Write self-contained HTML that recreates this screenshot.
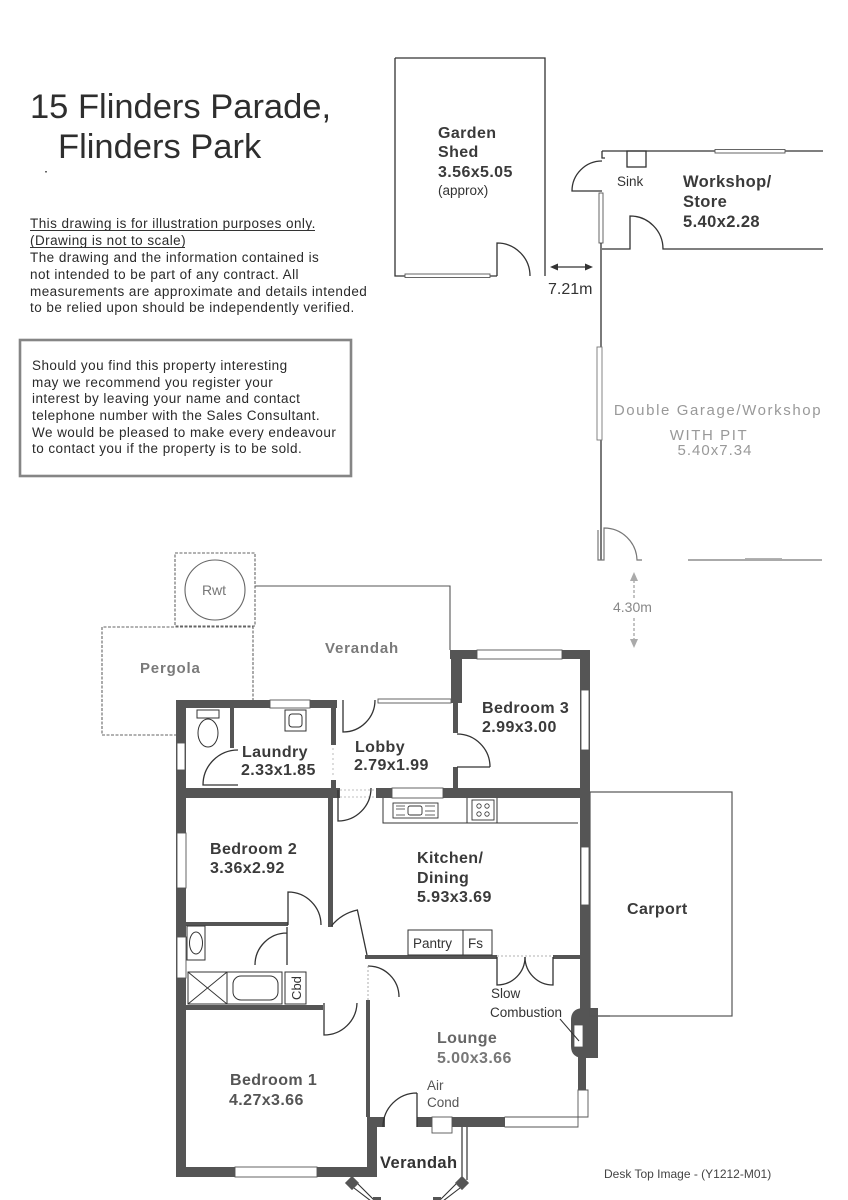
<!DOCTYPE html>
<html><head><meta charset="utf-8"><style>
html,body{margin:0;padding:0;background:#fff;}
svg{display:block;}
text{font-family:"Liberation Sans",Arial,sans-serif;}
.ttl{font-size:34.5px;fill:#2e2e2e;}
.dis{font-size:13.5px;fill:#2a2a2a;letter-spacing:0.45px;}
.lb{font-size:16px;font-weight:bold;fill:#3a3a3a;letter-spacing:0.4px;}
.lbg{font-size:15px;font-weight:bold;fill:#7a7a7a;letter-spacing:0.8px;}
.sm{font-size:14px;fill:#333;}
.ln{stroke:#333;stroke-width:1.3;fill:none;}
.dl{stroke:#666;stroke-width:1.1;fill:none;stroke-dasharray:3 1.5;}
.w{fill:#555;}
.win{fill:#fff;stroke:#555;stroke-width:0.9;}
.gr{font-size:15px;fill:#999;letter-spacing:1.6px;}
</style></head><body>
<svg width="848" height="1200" viewBox="0 0 848 1200" xmlns="http://www.w3.org/2000/svg">
<rect width="848" height="1200" fill="#fff"/>

<!-- Title -->
<text class="ttl" x="30" y="118">15 Flinders Parade,</text>
<text class="ttl" x="58" y="158">Flinders Park</text>
<rect x="45" y="171" width="2" height="1.5" fill="#666"/>

<!-- Disclaimer -->
<text class="dis" x="30" y="228">This drawing is for illustration purposes only.</text>
<line x1="30" y1="230.5" x2="315" y2="230.5" stroke="#333" stroke-width="1"/>
<text class="dis" x="30" y="245">(Drawing is not to scale)</text>
<line x1="30" y1="247.5" x2="185" y2="247.5" stroke="#333" stroke-width="1"/>
<text class="dis" x="30" y="262">The drawing and the information contained is</text>
<text class="dis" x="30" y="279">not intended to be part of any contract.  All</text>
<text class="dis" x="30" y="296">measurements are approximate and details intended</text>
<text class="dis" x="30" y="312">to be relied upon should be independently verified.</text>

<!-- Box -->
<rect x="20" y="340" width="331" height="136" fill="none" stroke="#858585" stroke-width="2.6"/>
<text class="dis" x="32" y="370">Should you find this property interesting</text>
<text class="dis" x="32" y="387">may we recommend you register your</text>
<text class="dis" x="32" y="403">interest by leaving your name and contact</text>
<text class="dis" x="32" y="420">telephone number with the Sales Consultant.</text>
<text class="dis" x="32" y="437">We would be pleased to make every endeavour</text>
<text class="dis" x="32" y="453">to contact you if the property is to be sold.</text>

<!-- Garden shed -->
<path class="ln" d="M395 58 L545 58 L545 276 M395 58 L395 276 L497 276"/>
<rect x="405" y="274" width="85" height="3.5" class="win"/>
<path class="ln" d="M497 276 L497 243 A33 33 0 0 1 530 276"/>
<text class="lb" x="438" y="138">Garden</text>
<text class="lb" x="438" y="157">Shed</text>
<text class="lb" x="438" y="177">3.56x5.05</text>
<text class="sm" x="438" y="195" style="font-size:13.5px">(approx)</text>

<!-- 7.21m arrow -->
<line x1="556" y1="267" x2="587" y2="267" stroke="#333" stroke-width="1.2"/>
<polygon points="550,267 558,263.5 558,270.5" fill="#333"/>
<polygon points="593,267 585,263.5 585,270.5" fill="#333"/>
<text x="548" y="294" style="font-size:16px;fill:#333">7.21m</text>

<!-- Workshop -->
<path class="ln" d="M602 151 L823 151 M602 151 L602 158 L605 158"/>
<rect x="715" y="149.5" width="70" height="3.5" class="win"/>
<rect x="627" y="151" width="19" height="16" class="ln"/>
<path class="ln" d="M602 191 L572 191 A30 30 0 0 1 602 161"/>
<rect x="599" y="193" width="4" height="50" class="win"/>
<path class="ln" d="M601 243 L601 560"/>
<path class="ln" d="M602 249 L630 249 L630 216 A33 33 0 0 1 663 249 L823 249"/>
<text class="sm" x="617" y="186" style="font-size:13.5px">Sink</text>
<text class="lb" x="683" y="187" style="font-size:16.5px">Workshop/</text>
<text class="lb" x="683" y="207" style="font-size:16.5px">Store</text>
<text class="lb" x="683" y="227" style="font-size:16.5px">5.40x2.28</text>

<!-- Garage -->
<rect x="597" y="347" width="5" height="93" fill="#fff" stroke="#777" stroke-width="0.9"/>
<path d="M598 530 L598 560 L604 560 L604 528 A33 33 0 0 1 637 560 L642 560" stroke="#777" stroke-width="1.2" fill="none"/>
<path d="M688 560 L822 560" stroke="#777" stroke-width="1.2" fill="none"/>
<path d="M745 558.5 L782 558.5" stroke="#999" stroke-width="0.8"/>
<text class="gr" x="718" y="415" text-anchor="middle">Double  Garage/Workshop</text>
<text class="gr" x="709" y="440" text-anchor="middle">WITH  PIT</text>
<text class="gr" x="715" y="455" text-anchor="middle" style="letter-spacing:1px">5.40x7.34</text>
<!-- 4.30m arrow -->
<line x1="634" y1="580" x2="634" y2="598" stroke="#888" stroke-width="1" stroke-dasharray="3 2"/>
<line x1="634" y1="618" x2="634" y2="640" stroke="#888" stroke-width="1" stroke-dasharray="3 2"/>
<polygon points="634,572 630,581 638,581" fill="#aaa"/>
<polygon points="634,648 630,639 638,639" fill="#aaa"/>
<text x="613" y="612" style="font-size:14px;fill:#888">4.30m</text>

<!-- Rwt / Pergola / Verandah outlines -->
<rect x="175" y="553" width="80" height="73" class="dl"/>
<circle cx="215" cy="590" r="30" fill="none" stroke="#666" stroke-width="1.1"/>
<text x="214" y="595" text-anchor="middle" style="font-size:14px;fill:#777">Rwt</text>
<path class="dl" d="M177 735 L102 735 L102 627 L253 627 L253 700"/>
<path class="dl" d="M255 586 L450 586 L450 650" style="stroke-dasharray:none;stroke:#555"/>
<text class="lbg" x="325" y="653">Verandah</text>
<text class="lbg" x="140" y="673">Pergola</text>

<!-- Walls -->
<rect class="w" x="176" y="700" width="10" height="477"/>
<rect class="w" x="176" y="700" width="161" height="8"/>
<rect class="w" x="331" y="700" width="5" height="45"/>
<rect class="w" x="331" y="780" width="5" height="18"/>
<rect class="w" x="176" y="788" width="164" height="10"/>
<rect class="w" x="376" y="788" width="214" height="10"/>
<rect class="w" x="450" y="650" width="140" height="9"/>
<rect class="w" x="451" y="650" width="11" height="53"/>
<rect class="w" x="580" y="650" width="10" height="360"/>
<rect class="w" x="578" y="1056" width="8" height="34"/>
<rect class="w" x="367" y="1117" width="18" height="10"/>
<rect class="w" x="417" y="1117" width="88" height="10"/>
<rect class="w" x="367" y="1117" width="10" height="60"/>
<rect class="w" x="176" y="1167" width="201" height="10"/>
<rect class="w" x="328" y="798" width="5" height="129"/>
<rect class="w" x="186" y="922" width="102" height="4"/>
<rect class="w" x="186" y="1005" width="137" height="5"/>
<rect class="w" x="366" y="1000" width="4" height="117"/>
<rect class="w" x="365" y="955" width="132" height="4"/>
<rect class="w" x="553" y="955" width="27" height="4"/>
<rect class="w" x="453" y="703" width="5" height="30"/>
<rect class="w" x="453" y="767" width="5" height="23"/>
<rect class="w" x="230" y="708" width="4" height="40"/>
<!-- fireplace -->
<path class="w" d="M598 1008 L584 1008 Q571 1008 571 1020 L571 1046 Q571 1058 584 1058 L598 1058 Z"/>
<rect x="574" y="1025" width="9" height="22" fill="#fff" stroke="#555" stroke-width="0.8"/>
<line x1="560" y1="1019" x2="579" y2="1041" stroke="#333" stroke-width="1"/>

<!-- lobby top window -->
<rect x="378" y="699" width="73" height="4" class="win"/>

<!-- windows -->
<rect class="win" x="270" y="700" width="40" height="8"/>
<rect class="win" x="177" y="743" width="8" height="27"/>
<rect class="win" x="477" y="650" width="85" height="9"/>
<rect class="win" x="581" y="690" width="8" height="60"/>
<rect class="win" x="392" y="788" width="51" height="10"/>
<rect class="win" x="581" y="847" width="8" height="58"/>
<rect class="win" x="177" y="833" width="9" height="55"/>
<rect class="win" x="177" y="937" width="9" height="41"/>
<rect class="win" x="235" y="1167" width="82" height="10"/>
<path class="win" d="M505 1117 L588 1117 L588 1090 L578 1090 L578 1127 L505 1127 Z" style="fill:#fff"/>
<rect x="505" y="1117.5" width="72" height="9" fill="#fff"/>
<rect x="432" y="1117" width="20" height="16" class="win"/>

<!-- dashed door openings -->
<path d="M340 790 L376 790 M340 797 L376 797" stroke="#aaa" stroke-width="0.8" stroke-dasharray="2 2"/>
<path d="M333 748 L333 778" stroke="#aaa" stroke-width="0.8" stroke-dasharray="2 3"/>
<path d="M497 956 L553 956" stroke="#999" stroke-width="0.8" stroke-dasharray="2 2"/>

<!-- Laundry fittings -->
<rect x="197" y="710" width="22" height="8" class="ln" style="stroke-width:1"/>
<ellipse cx="208" cy="733" rx="10" ry="14" class="ln" style="stroke-width:1"/>
<rect x="285" y="710" width="21" height="21" class="ln" style="stroke-width:1"/>
<rect x="289" y="714" width="13" height="13" rx="3" class="ln" style="stroke-width:1"/>

<!-- Kitchen fittings -->
<path class="ln" d="M383 798 L383 823 L578 823 M467 798 L467 823 M497 798 L497 823" style="stroke-width:1"/>
<rect x="393" y="803" width="45" height="15" class="ln" style="stroke-width:0.9"/>
<rect x="408" y="806" width="14" height="9" rx="2" class="ln" style="stroke-width:0.9"/>
<path d="M396 806 L405 806 M396 809 L405 809 M396 815 L405 815 M425 806 L435 806 M425 811 L435 811 M425 815 L435 815" stroke="#333" stroke-width="0.8"/>
<rect x="472" y="800" width="22" height="20" class="ln" style="stroke-width:0.9"/>
<circle cx="479" cy="806" r="2.2" class="ln" style="stroke-width:0.8"/>
<circle cx="487" cy="806" r="2.2" class="ln" style="stroke-width:0.8"/>
<circle cx="479" cy="814" r="2.2" class="ln" style="stroke-width:0.8"/>
<circle cx="487" cy="814" r="2.2" class="ln" style="stroke-width:0.8"/>
<rect x="408" y="930" width="84" height="25" class="ln" style="stroke-width:1"/>
<line x1="463" y1="930" x2="463" y2="955" stroke="#333" stroke-width="1"/>
<text class="sm" x="413" y="948" style="font-size:13.5px">Pantry</text>
<text class="sm" x="468" y="948" style="font-size:13.5px">Fs</text>

<!-- Bathroom fittings -->
<rect x="187" y="926" width="18" height="34" class="ln" style="stroke-width:1"/>
<ellipse cx="196" cy="943" rx="6.5" ry="11" class="ln" style="stroke-width:1"/>
<rect x="188" y="972" width="39" height="32" class="ln" style="stroke-width:1"/>
<path d="M188 972 L227 1004 M227 972 L188 1004" stroke="#333" stroke-width="0.9"/>
<rect x="227" y="972" width="55" height="32" class="ln" style="stroke-width:1"/>
<rect x="233" y="976" width="45" height="24" rx="8" class="ln" style="stroke-width:1"/>
<rect x="285" y="972" width="21" height="32" class="ln" style="stroke-width:1"/>
<text x="301" y="988" transform="rotate(-90 301 988)" text-anchor="middle" style="font-size:13px;fill:#333">Cbd</text>

<!-- Doors -->
<path class="ln" d="M343 700 L343 732 A32 32 0 0 0 375 700"/>
<path class="ln" d="M238 785 L203 785 A35 35 0 0 1 238 750"/>
<path class="ln" d="M457 767 L490 767 M457 734 A33 33 0 0 1 490 767"/>
<path class="ln" d="M338 790 L338 821 A33 33 0 0 0 371 788"/>
<path class="ln" d="M288 925 L288 892 A33 33 0 0 1 321 925"/>
<path class="ln" d="M287 927 L287 965 M255 965 A32 32 0 0 1 287 933"/>
<path class="ln" d="M367 955 L357.4 910 A46 46 0 0 0 331.5 925.8"/>
<path class="ln" d="M368 966 A31 31 0 0 1 399 997"/>
<path d="M368 966 L368 1000" stroke="#999" stroke-width="0.8" stroke-dasharray="2 2"/>
<path class="ln" d="M324 1003 L324 1035 A33 33 0 0 0 357 1003"/>
<path class="ln" d="M417 1127 L417 1093 M383 1127 A34 34 0 0 1 417 1093"/>
<path class="ln" d="M497 957 L497 985 A28 28 0 0 0 525 957"/>
<path class="ln" d="M553 957 L553 985 A28 28 0 0 1 525 957"/>

<!-- Verandah bay -->
<path d="M462 1127 L462 1180 M467 1127 L467 1180" stroke="#333" stroke-width="1.2"/>
<rect x="347" y="1178" width="10" height="10" class="w" transform="rotate(45 352 1183)"/>
<rect x="457" y="1178" width="10" height="10" class="w" transform="rotate(45 462 1183)"/>
<path d="M354 1188 L371 1201 M358 1184 L375 1201" stroke="#333" stroke-width="1.1"/>
<path d="M460 1188 L443 1201 M456 1184 L439 1201" stroke="#333" stroke-width="1.1"/>
<rect class="w" x="373" y="1197" width="8" height="3"/>
<rect class="w" x="433" y="1197" width="8" height="3"/>

<!-- Carport -->
<rect x="590" y="792" width="142" height="224" fill="none" stroke="#555" stroke-width="1.2"/>
<line x1="590" y1="1016" x2="610" y2="1016" stroke="#555" stroke-width="1.2"/>

<!-- Labels -->
<text class="lb" x="242" y="757">Laundry</text>
<text class="lb" x="241" y="775">2.33x1.85</text>
<text class="lb" x="355" y="752">Lobby</text>
<text class="lb" x="354" y="770">2.79x1.99</text>
<text class="lb" x="482" y="713">Bedroom 3</text>
<text class="lb" x="482" y="732">2.99x3.00</text>
<text class="lb" x="210" y="854">Bedroom 2</text>
<text class="lb" x="210" y="873">3.36x2.92</text>
<text class="lb" x="417" y="863">Kitchen/</text>
<text class="lb" x="417" y="883">Dining</text>
<text class="lb" x="417" y="902">5.93x3.69</text>
<text class="lb" x="627" y="914">Carport</text>
<text class="sm" x="491" y="998" style="font-size:13.5px">Slow</text>
<text class="sm" x="490" y="1017" style="font-size:13.5px">Combustion</text>
<text class="lb" x="437" y="1043" style="fill:#666">Lounge</text>
<text class="lb" x="437" y="1063" style="fill:#777">5.00x3.66</text>
<text class="lb" x="230" y="1085" style="fill:#555">Bedroom 1</text>
<text class="lb" x="229" y="1105" style="fill:#555">4.27x3.66</text>
<text class="sm" x="427" y="1090" style="font-size:13.5px;fill:#555">Air</text>
<text class="sm" x="427" y="1107" style="font-size:13.5px;fill:#555">Cond</text>
<text class="lb" x="380" y="1168" style="font-size:16.5px;fill:#333">Verandah</text>
<text x="604" y="1178" style="font-size:12px;fill:#444">Desk Top Image - (Y1212-M01)</text>
</svg>
</body></html>
